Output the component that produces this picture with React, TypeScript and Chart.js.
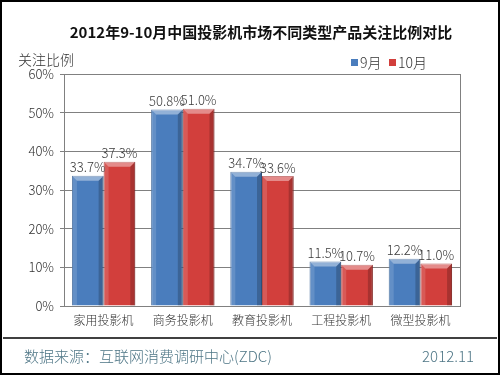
import React, { useEffect, useRef } from "react";
import { Chart, registerables } from "chart.js";

Chart.register(...registerables);

const categories = ["家用投影机", "商务投影机", "教育投影机", "工程投影机", "微型投影机"];
const sepValues = [33.7, 50.8, 34.7, 11.5, 12.2];
const octValues = [37.3, 51.0, 33.6, 10.7, 11.0];
const seriesNames = ["9月", "10月"];
const yTicks = [0, 10, 20, 30, 40, 50, 60];
const titleText = "2012年9-10月中国投影机市场不同类型产品关注比例对比";
const yTitle = "关注比例";
const sourceText = "数据来源：互联网消费调研中心(ZDC)";
const dateText = "2012.11";

const FONT = '"Noto Sans CJK SC", "Noto Sans", sans-serif';
const BLUE = "#4a7dbd";
const RED = "#d23f3c";

const decorPlugin = {
  id: "decor",
  afterDatasetsDraw(chart: any) {
    const ctx = chart.ctx;
    ctx.save();
    chart.data.datasets.forEach((ds: any, di: number) => {
      const meta = chart.getDatasetMeta(di);
      meta.data.forEach((bar: any, i: number) => {
        const x0 = bar.x - bar.width / 2;
        const x1 = bar.x + bar.width / 2;
        const top = bar.y;
        const bottom = bar.base;
        const b = 5;
        ctx.fillStyle = "rgba(255,255,255,0.4)";
        ctx.beginPath();
        ctx.moveTo(x0, top);
        ctx.lineTo(x1, top);
        ctx.lineTo(x1 - b, top + b);
        ctx.lineTo(x0 + b, top + b);
        ctx.closePath();
        ctx.fill();
        ctx.fillStyle = "rgba(255,255,255,0.14)";
        ctx.beginPath();
        ctx.moveTo(x0, top);
        ctx.lineTo(x0 + b, top + b);
        ctx.lineTo(x0 + b, bottom);
        ctx.lineTo(x0, bottom);
        ctx.closePath();
        ctx.fill();
        ctx.fillStyle = "rgba(0,0,0,0.2)";
        ctx.beginPath();
        ctx.moveTo(x1, top);
        ctx.lineTo(x1 - b, top + b);
        ctx.lineTo(x1 - b, bottom);
        ctx.lineTo(x1, bottom);
        ctx.closePath();
        ctx.fill();
        ctx.fillStyle = "#3a3a3a";
        ctx.font = `300 13px ${FONT}`;
        ctx.textAlign = "center";
        ctx.textBaseline = "bottom";
        ctx.fillText(ds.data[i].toFixed(1) + "%", bar.x, top - 2);
      });
    });
    ctx.restore();
  },
  afterDraw(chart: any) {
    const ctx = chart.ctx;
    const w = chart.width;
    const h = chart.height;
    ctx.save();
    ctx.strokeStyle = "#000";
    ctx.lineWidth = 2;
    ctx.strokeRect(1, 1, w - 2, h - 2);
    ctx.fillStyle = "#111";
    ctx.font = `bold 15px ${FONT}`;
    ctx.textAlign = "center";
    ctx.textBaseline = "middle";
    ctx.fillText(titleText, 261, 32);
    ctx.font = `300 14px ${FONT}`;
    ctx.fillStyle = "#333";
    ctx.textAlign = "left";
    ctx.fillText(yTitle, 18, 60);
    ctx.font = `300 14px ${FONT}`;
    const legendItems = [
      { x: 351, color: BLUE, label: seriesNames[0] },
      { x: 389, color: RED, label: seriesNames[1] },
    ];
    legendItems.forEach((it) => {
      ctx.fillStyle = it.color;
      ctx.fillRect(it.x, 59, 7, 7);
      ctx.fillStyle = "#333";
      ctx.textAlign = "left";
      ctx.fillText(it.label, it.x + 9, 63);
    });
    ctx.strokeStyle = "#000";
    ctx.lineWidth = 1.5;
    ctx.beginPath();
    ctx.moveTo(3, 338);
    ctx.lineTo(w - 3, 338);
    ctx.stroke();
    ctx.fillStyle = "#4d7585";
    ctx.font = `300 15px ${FONT}`;
    ctx.textAlign = "left";
    ctx.fillText(sourceText, 24, 356);
    ctx.textAlign = "right";
    ctx.fillText(dateText, 474, 356);
    ctx.restore();
  },
};

export default function App() {
  const ref = useRef<HTMLCanvasElement>(null);
  useEffect(() => {
    document.body.style.margin = "0";
    const chart = new Chart(ref.current!, {
      type: "bar",
      data: {
        labels: categories,
        datasets: [
          {
            label: seriesNames[0],
            data: sepValues,
            backgroundColor: BLUE,
            borderColor: "#3a6396",
            borderWidth: 1,
            categoryPercentage: 0.8,
            barPercentage: 1.0,
          },
          {
            label: seriesNames[1],
            data: octValues,
            backgroundColor: RED,
            borderColor: "#a8302e",
            borderWidth: 1,
            categoryPercentage: 0.8,
            barPercentage: 1.0,
          },
        ],
      },
      options: {
        animation: false,
        responsive: false,
        devicePixelRatio: 1,
        layout: { padding: { left: 4, right: 40, top: 74, bottom: 39 } },
        plugins: {
          legend: { display: false },
          title: { display: false },
          tooltip: { enabled: false },
        },
        scales: {
          x: {
            grid: { display: false, drawTicks: false },
            border: { display: true, color: "#808080", width: 1 },
            ticks: { color: "#333", font: { size: 12, family: FONT, weight: "300" }, padding: 7 },
            afterFit: (s: any) => {
              s.height = 30;
            },
          },
          y: {
            min: 0,
            max: 60,
            afterBuildTicks: (s: any) => {
              s.ticks = yTicks.map((v) => ({ value: v }));
            },
            grid: { color: "#808080", lineWidth: 1, drawTicks: true, tickLength: 4 },
            border: { display: true, color: "#808080", width: 1 },
            ticks: {
              color: "#333",
              font: { size: 13, family: FONT, weight: "300" },
              padding: 6,
              callback: (v: any) => v + "%",
            },
            afterFit: (s: any) => {
              s.width = 60;
            },
          },
        },
      },
      plugins: [
        decorPlugin,
        {
          id: "frame",
          beforeDatasetsDraw(chart: any) {
            const { ctx, chartArea } = chart;
            ctx.save();
            ctx.strokeStyle = "#808080";
            ctx.lineWidth = 1;
            ctx.strokeRect(chartArea.left + 0.5, chartArea.top + 0.5, chartArea.right - chartArea.left, chartArea.bottom - chartArea.top);
            ctx.restore();
          },
        },
      ],
    });
    return () => chart.destroy();
  }, []);
  return (
    <div style={{ position: "absolute", left: 0, top: 0, width: 500, height: 375, background: "#fff" }}>
      <canvas ref={ref} width={500} height={375} style={{ display: "block" }} />
    </div>
  );
}
